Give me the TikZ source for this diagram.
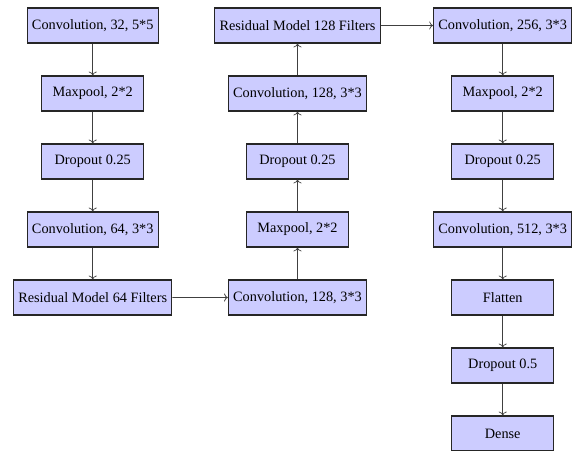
\documentclass[tikz,border=0pt]{standalone}
\usepackage{fontspec}
\setmainfont{Liberation Serif}
\usepackage{xcolor}
\usetikzlibrary{positioning, arrows.meta}

\begin{document}
\begin{tikzpicture}[
    node distance=22.3pt,
    layer/.style={rectangle, draw=black!85, fill=blue!20, line width=0.8pt, minimum width=2.5cm, minimum height=24.5pt, font=\normalsize},
    flow/.style={->, draw=black!75, line width=0.5pt}
]
\useasboundingbox (0,0) rectangle (401.8pt,-315.7pt);

% first column
\node[layer] (conv1) at (64.9pt,-17.85pt) {Convolution, 32, 5*5};
\node[layer, below=of conv1] (pool1) {Maxpool, 2*2};
\node[layer, below=of pool1] (drop1) {Dropout 0.25};
\node[layer, below=of drop1] (conv2) {Convolution, 64, 3*3};
\node[layer, below=of conv2] (res1) {Residual Model 64 Filters};

% second column (goes upwards)
\node[layer] (conv3) at (208.25pt,-208.25pt) {Convolution, 128, 3*3};
\node[layer, above=of conv3] (pool2) {Maxpool, 2*2};
\node[layer, above=of pool2] (drop2) {Dropout 0.25};
\node[layer, above=of drop2] (conv4) {Convolution, 128, 3*3};
\node[layer, above=of conv4] (res2) {Residual Model 128 Filters};

% third column
\node[layer] (conv5) at (351.9pt,-17.85pt) {Convolution, 256, 3*3};
\node[layer, below=of conv5] (pool3) {Maxpool, 2*2};
\node[layer, below=of pool3] (drop3) {Dropout 0.25};
\node[layer, below=of drop3] (conv6) {Convolution, 512, 3*3};
\node[layer, below=of conv6] (flat) {Flatten};
\node[layer, below=of flat] (drop4) {Dropout 0.5};
\node[layer, below=of drop4] (dense) {Dense};

% connections
\draw[flow] (conv1) -- (pool1);
\draw[flow] (pool1) -- (drop1);
\draw[flow] (drop1) -- (conv2);
\draw[flow] (conv2) -- (res1);
\draw[flow] (res1) -- (conv3);
\draw[flow] (conv3) -- (pool2);
\draw[flow] (pool2) -- (drop2);
\draw[flow] (drop2) -- (conv4);
\draw[flow] (conv4) -- (res2);
\draw[flow] (res2) -- (conv5);
\draw[flow] (conv5) -- (pool3);
\draw[flow] (pool3) -- (drop3);
\draw[flow] (drop3) -- (conv6);
\draw[flow] (conv6) -- (flat);
\draw[flow] (flat) -- (drop4);
\draw[flow] (drop4) -- (dense);

\end{tikzpicture}
\end{document}
